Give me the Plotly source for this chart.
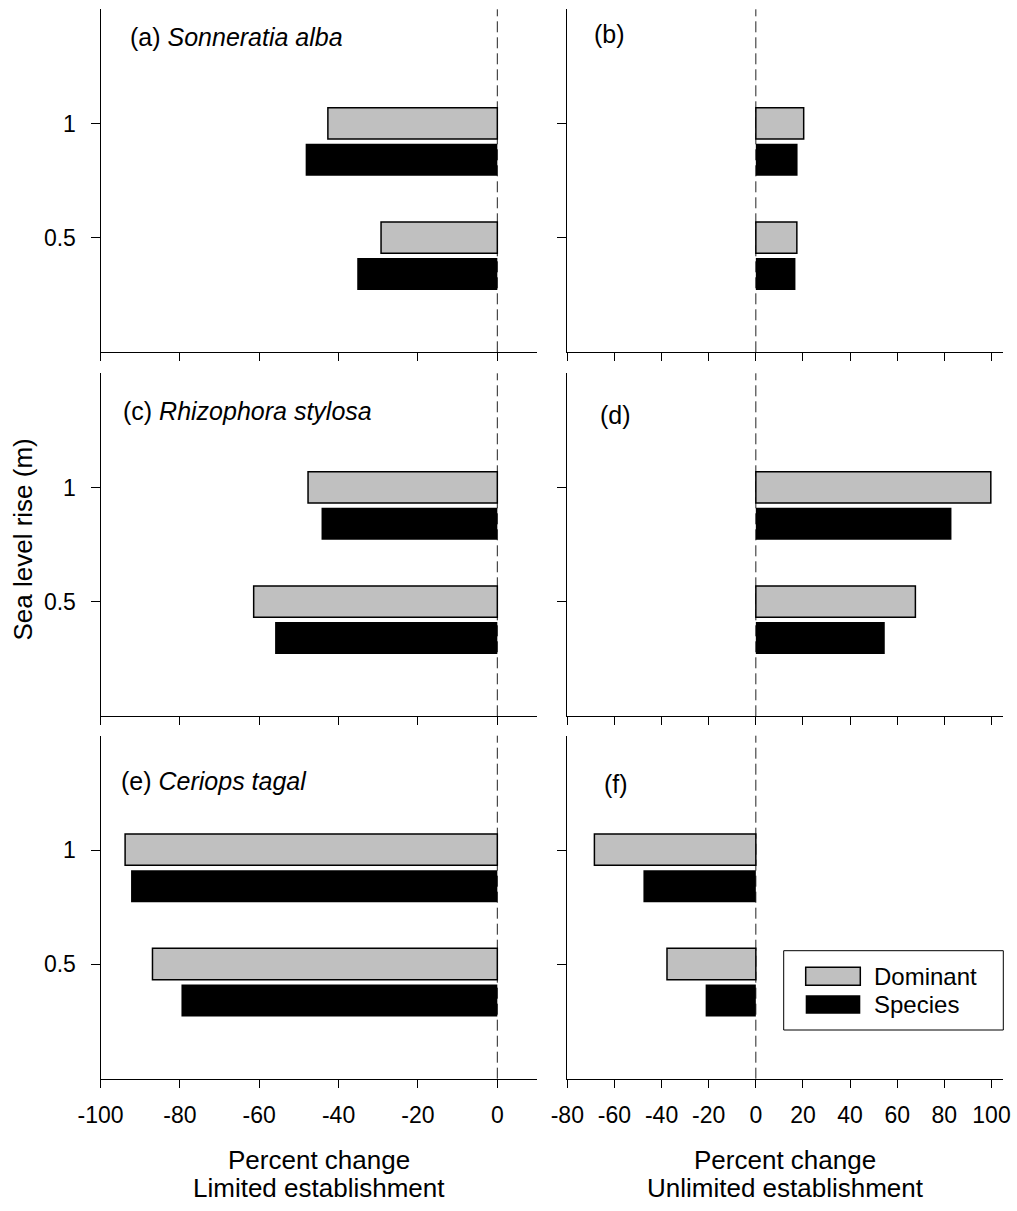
import plotly.graph_objects as go

# ---- data ----
levels = [0.5, 1.0]
y_tick_vals = [0.5, 1.0]
y_tick_text = ["0.5", "1"]
left_ticks = [-100, -80, -60, -40, -20, 0]
left_tick_text = ["-100", "-80", "-60", "-40", "-20", "0"]
right_ticks = [-80, -60, -40, -20, 0, 20, 40, 60, 80, 100]
right_tick_text = ["-80", "-60", "-40", "-20", "0", "20", "40", "60", "80", "100"]

a_dom = [-29.3, -42.7]
a_spp = [-35.3, -48.3]
b_dom = [17.4, 20.3]
b_spp = [16.8, 17.7]
c_dom = [-61.4, -47.7]
c_spp = [-56.0, -44.3]
d_dom = [67.7, 99.7]
d_spp = [54.7, 83.0]
e_dom = [-86.9, -93.8]
e_spp = [-79.6, -92.3]
f_dom = [-37.7, -68.5]
f_spp = [-21.3, -47.7]

panel_labels = ["(a) <i>Sonneratia alba</i>", "(b)", "(c) <i>Rhizophora stylosa</i>",
                "(d)", "(e) <i>Ceriops tagal</i>", "(f)"]
legend_names = ["Dominant", "Species"]
x_title_line1 = "Percent change"
x_titles_line2 = ["Limited establishment", "Unlimited establishment"]
y_title = "Sea level rise (m)"

W, H = 1017, 1211
FONT = "Liberation Sans, Arial, sans-serif"

def px(x):
    return x / W

def py(y):
    return 1 - y / H

col_dom = [[px(100.5), px(537)], [px(567.3), px(1003.3)]]
row_dom = [[py(352.3), py(9.3)], [py(716.3), py(373.3)], [py(1078.7), py(735.7)]]

panels = [(a_dom, a_spp), (b_dom, b_spp), (c_dom, c_spp),
          (d_dom, d_spp), (e_dom, e_spp), (f_dom, f_spp)]

fig = go.Figure()
layout = dict(width=W, height=H, margin=dict(l=0, r=0, t=0, b=0, pad=0),
              paper_bgcolor="white", plot_bgcolor="white",
              font=dict(family=FONT, color="black", size=22),
              showlegend=False, barmode="overlay")
shapes = []
annotations = []

for i, (dom, spp) in enumerate(panels):
    r, c = i // 2, i % 2
    n = i + 1
    xa = "x" if n == 1 else f"x{n}"
    ya = "y" if n == 1 else f"y{n}"
    fig.add_trace(go.Bar(x=dom, y=levels, orientation="h", width=0.137, offset=-0.067,
                         marker=dict(color="#c0c0c0", line=dict(color="black", width=1.5)),
                         name=legend_names[0], xaxis=xa, yaxis=ya))
    fig.add_trace(go.Bar(x=spp, y=levels, orientation="h", width=0.14, offset=-0.228,
                         marker=dict(color="black", line=dict(width=0)),
                         name=legend_names[1], xaxis=xa, yaxis=ya))
    xkey = "xaxis" if n == 1 else f"xaxis{n}"
    ykey = "yaxis" if n == 1 else f"yaxis{n}"
    layout[xkey] = dict(domain=col_dom[c], anchor=ya, automargin=False,
                        range=[-100, 10] if c == 0 else [-80, 105],
                        tickvals=left_ticks if c == 0 else right_ticks,
                        ticktext=left_tick_text if c == 0 else right_tick_text,
                        showticklabels=(r == 2), ticks="outside", ticklen=8,
                        tickcolor="black", tickwidth=1,
                        showline=True, linecolor="black", linewidth=1,
                        showgrid=False, zeroline=False,
                        tickfont=dict(size=23, family=FONT), ticklabelstandoff=8)
    layout[ykey] = dict(domain=row_dom[r], anchor=xa, range=[0, 1.5], automargin=False,
                        tickvals=y_tick_vals, ticktext=y_tick_text,
                        showticklabels=(c == 0), ticks="outside", ticklen=9,
                        tickcolor="black", tickwidth=1,
                        showline=True, linecolor="black", linewidth=1,
                        showgrid=False, zeroline=False,
                        tickfont=dict(size=23, family=FONT), ticklabelstandoff=10)
    shapes.append(dict(type="line", xref=xa, yref=f"{ya} domain", x0=0, x1=0, y0=0, y1=1,
                       line=dict(color="#222222", width=1, dash="11px,5px"), layer="below"))

# panel labels
label_pos = [(127.7, 36.5), (592.3, 34), (120.7, 410.5), (598.3, 414.7), (119, 780.8), (602.3, 783.7)]
for txt, (lx, ly) in zip(panel_labels, label_pos):
    annotations.append(dict(text=txt, xref="paper", yref="paper", x=px(lx), y=py(ly),
                            xanchor="left", yanchor="middle", showarrow=False,
                            font=dict(size=25, family=FONT)))

# axis titles
annotations.append(dict(text=y_title, xref="paper", yref="paper", x=px(22.5), y=py(540),
                        textangle=-90, xanchor="center", yanchor="middle", showarrow=False,
                        font=dict(size=26, family=FONT)))
for cx, line2 in zip([318.7, 785.3], x_titles_line2):
    annotations.append(dict(text=x_title_line1, xref="paper", yref="paper", x=px(cx), y=py(1160),
                            xanchor="center", yanchor="middle", showarrow=False,
                            font=dict(size=26, family=FONT)))
    annotations.append(dict(text=line2, xref="paper", yref="paper", x=px(cx), y=py(1188),
                            xanchor="center", yanchor="middle", showarrow=False,
                            font=dict(size=26, family=FONT)))

# legend (drawn manually)
shapes.append(dict(type="rect", xref="paper", yref="paper", x0=px(783.7), x1=px(1003.3),
                   y0=py(1030), y1=py(950.7), line=dict(color="black", width=1),
                   fillcolor="white", layer="above"))
shapes.append(dict(type="rect", xref="paper", yref="paper", x0=px(805.7), x1=px(860.3),
                   y0=py(985.3), y1=py(967.3), line=dict(color="black", width=1.5),
                   fillcolor="#c0c0c0", layer="above"))
shapes.append(dict(type="rect", xref="paper", yref="paper", x0=px(805.7), x1=px(860.3),
                   y0=py(1013.7), y1=py(995.3), line=dict(color="black", width=0),
                   fillcolor="black", layer="above"))
for txt, ly in zip(legend_names, [976.5, 1004.5]):
    annotations.append(dict(text=txt, xref="paper", yref="paper", x=px(872), y=py(ly),
                            xanchor="left", yanchor="middle", showarrow=False,
                            font=dict(size=24, family=FONT)))

layout["shapes"] = shapes
layout["annotations"] = annotations
fig.update_layout(**layout)
fig.write_html("out.html", config={"displayModeBar": False},
               post_script="document.body.style.margin='0px';document.body.style.overflow='hidden';")
